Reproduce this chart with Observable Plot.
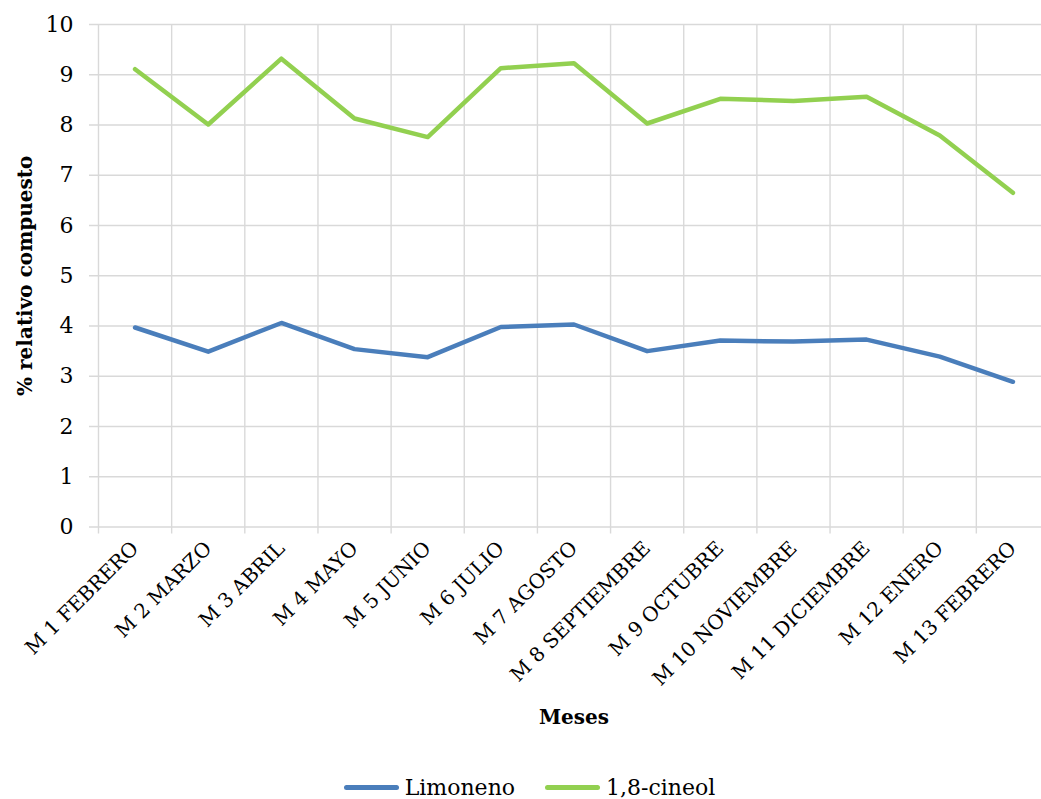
<!DOCTYPE html>
<html>
<head>
<meta charset="utf-8">
<script src="https://cdn.jsdelivr.net/npm/d3@7"></script>
<script src="https://cdn.jsdelivr.net/npm/@observablehq/plot@0.6"></script>
<style>
  html, body { margin: 0; padding: 0; background: #fff; overflow: hidden; }
  #chart svg { display: block; }
  .legend { display: flex; justify-content: center; align-items: center; gap: 30px;
    font-family: "DejaVu Serif", serif; font-size: 22px; color: #000; height: 30px; padding-left: 18px; margin-top: 2px; }
  .legend .item { display: flex; align-items: center; gap: 6px; }
  .legend .sw { width: 55px; height: 5px; border-radius: 3px; }
</style>
</head>
<body>
<div id="chart"></div>
<div class="legend" id="legend"></div>
<script>
const categories = ["M 1 FEBRERO", "M 2 MARZO", "M 3 ABRIL", "M 4 MAYO", "M 5 JUNIO", "M 6 JULIO", "M 7 AGOSTO", "M 8 SEPTIEMBRE", "M 9 OCTUBRE", "M 10 NOVIEMBRE", "M 11 DICIEMBRE", "M 12 ENERO", "M 13 FEBRERO"];
const limoneno = [3.97, 3.49, 4.06, 3.54, 3.38, 3.98, 4.03, 3.50, 3.71, 3.69, 3.73, 3.39, 2.89];
const cineol = [9.11, 8.01, 9.32, 8.13, 7.76, 9.13, 9.23, 8.03, 8.52, 8.48, 8.56, 7.79, 6.65];
const seriesNames = ["Limoneno", "1,8-cineol"];
const seriesColors = ["#4a7ebb", "#92d050"];
const yTicks = [0, 1, 2, 3, 4, 5, 6, 7, 8, 9, 10];
const yTitle = "% relativo compuesto";
const xTitle = "Meses";

const rows = [];
categories.forEach((m, i) => {
  rows.push({i, month: m, value: limoneno[i], series: seriesNames[0]});
});
categories.forEach((m, i) => {
  rows.push({i, month: m, value: cineol[i], series: seriesNames[1]});
});
const idx = categories.map((d, i) => i);
const boundaries = categories.map((d, i) => i - 0.5);

const chart = Plot.plot({
  width: 1041,
  height: 770,
  marginLeft: 98,
  marginRight: -8,
  marginTop: 24,
  marginBottom: 243.5,
  style: {fontFamily: "DejaVu Serif", fontSize: "22px", color: "#000", background: "#fff", overflow: "hidden"},
  x: {type: "linear", domain: [-0.5, categories.length - 0.5]},
  y: {domain: [0, 10]},
  color: {domain: seriesNames, range: seriesColors},
  marks: [
    Plot.ruleY(yTicks, {y: d => d, stroke: "#d9d9d9", strokeWidth: 1.4, strokeOpacity: 1, insetLeft: -9}),
    Plot.ruleX(boundaries, {x: d => d, stroke: "#d9d9d9", strokeWidth: 1.4, strokeOpacity: 1, insetBottom: -7}),
    Plot.axisY(yTicks, {tickSize: 0, tickPadding: 25, tickFormat: d => String(d), label: null, fontSize: 22}),
    Plot.axisX(idx, {tickSize: 0, tickRotate: -45, tickFormat: i => categories[i], tickPadding: 18, label: null, fontSize: 20}),
    Plot.lineY(rows, {x: "i", y: "value", z: "series", stroke: "series", strokeWidth: 4.5, strokeLinecap: "round", strokeLinejoin: "round"}),
    Plot.text([yTitle], {frameAnchor: "left", dx: -73, dy: 0, rotate: -90, textAnchor: "middle", lineAnchor: "middle", fontWeight: "bold", fontSize: 20}),
    Plot.text([xTitle], {frameAnchor: "bottom", dy: 190.5, textAnchor: "middle", lineAnchor: "middle", fontWeight: "bold", fontSize: 20})
  ]
});
document.getElementById("chart").appendChild(chart);

const legend = document.getElementById("legend");
seriesNames.forEach((name, k) => {
  const item = document.createElement("div");
  item.className = "item";
  const sw = document.createElement("span");
  sw.className = "sw";
  sw.style.background = seriesColors[k];
  const t = document.createElement("span");
  t.textContent = name;
  item.appendChild(sw);
  item.appendChild(t);
  legend.appendChild(item);
});
</script>
</body>
</html>
